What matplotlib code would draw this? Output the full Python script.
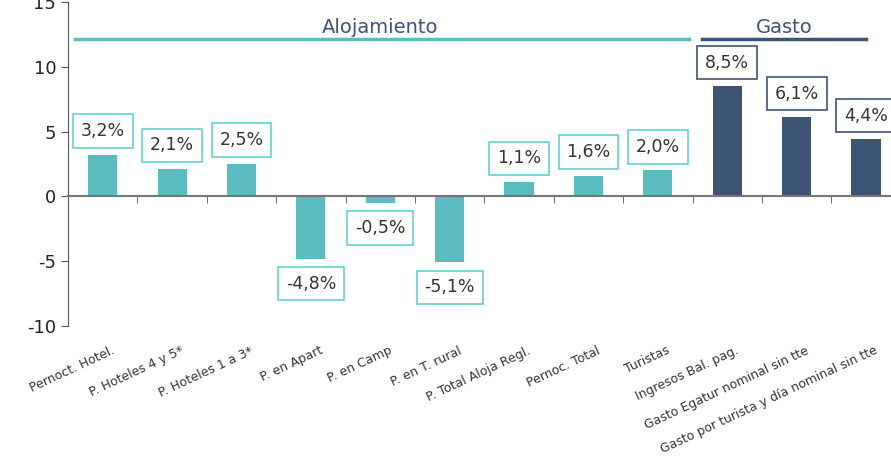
import matplotlib.pyplot as plt
from matplotlib.ticker import FixedLocator, NullFormatter

plt.rcParams['axes.unicode_minus'] = False

categorias = ['Pernoct. Hotel.', 'P. Hoteles 4 y 5*', 'P. Hoteles 1 a 3*', 'P. en Apart',
              'P. en Camp', 'P. en T. rural', 'P. Total Aloja Regl.', 'Pernoc. Total',
              'Turistas', 'Ingresos Bal. pag.', 'Gasto Egatur nominal sin tte',
              'Gasto por turista y día nominal sin tte']
valores = [3.2, 2.1, 2.5, -4.8, -0.5, -5.1, 1.1, 1.6, 2.0, 8.5, 6.1, 4.4]
grupo = ['Alojamiento'] * 9 + ['Gasto'] * 3

teal = '#5bbcbf'
navy = '#3e5475'
borde = {'Alojamiento': '#5fd3d3', 'Gasto': navy}
relleno = {'Alojamiento': teal, 'Gasto': navy}

fig = plt.figure(figsize=(8.91, 4.65), dpi=100)
ax = fig.add_axes([0.0763, 0.299, 0.9346, 0.697])

x = list(range(len(categorias)))
ax.bar(x, valores, width=0.42, color=[relleno[g] for g in grupo], zorder=2)

ax.set_xlim(-0.5, 11.5)
ax.set_ylim(-10, 15)
ax.set_yticks([-10, -5, 0, 5, 10, 15])
ax.tick_params(axis='y', labelsize=13, length=5, color='#555555', labelcolor='#222222')

for s in ['top', 'right']:
    ax.spines[s].set_visible(False)
ax.spines['bottom'].set_position(('data', 0))
ax.spines['bottom'].set_color('#777777')
ax.spines['bottom'].set_linewidth(1.5)
ax.spines['left'].set_color('#555555')

ax.set_xticks([])
ax.xaxis.set_minor_locator(FixedLocator([i + 0.5 for i in range(11)]))
ax.xaxis.set_minor_formatter(NullFormatter())
ax.tick_params(axis='x', which='minor', length=5, color='#555555', direction='out')

# etiquetas de categoria abajo, giradas
for i, c in enumerate(categorias):
    ax.text(i + 0.12, -11.4, c, rotation=25, rotation_mode='anchor', ha='right', va='top',
            fontsize=9, color='#333333', clip_on=False)

# etiquetas de valor
for i, v in enumerate(valores):
    off = 17 if v >= 0 else -18
    ax.annotate(f'{v:.1f}%'.replace('.', ','), (i, v), xytext=(0, off), textcoords='offset points',
                ha='center', va='center', fontsize=12.5, color='#333333',
                bbox=dict(boxstyle='square,pad=0.45', fc='white', ec=borde[grupo[i]], lw=1.2), zorder=3)

# cabeceras de grupo
ax.plot([-0.4, 8.45], [12.1, 12.1], color=teal, lw=2.5, clip_on=False)
ax.plot([8.64, 11.0], [12.1, 12.1], color=navy, lw=2.5, clip_on=False)
ax.text(4.0, 12.3, 'Alojamiento', ha='center', va='bottom', fontsize=14, color=navy)
ax.text(9.82, 12.3, 'Gasto', ha='center', va='bottom', fontsize=14, color=navy)

fig.savefig('out.png', dpi=100)
